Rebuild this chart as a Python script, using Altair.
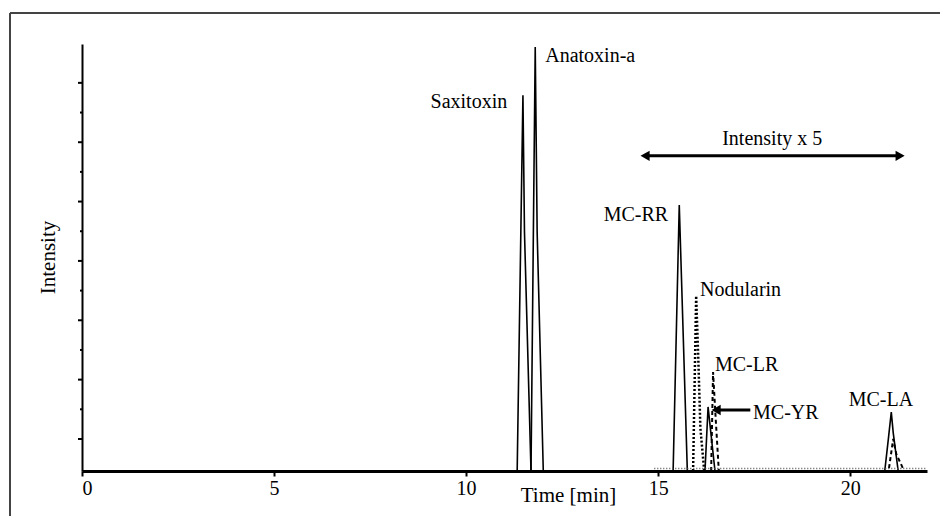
import altair as alt
import pandas as pd

# ---- chromatogram traces (time in min, relative intensity) ----
sax_t = [11.33, 11.48, 11.52, 11.69]
sax_i = [0, 88, 56, 0]
ana_t = [11.69, 11.80, 11.85, 12.01]
ana_i = [0, 99.3, 56, 0]
rr_t = [15.39, 15.55, 15.76]
rr_i = [0, 62.3, 0]
yr_t = [16.22, 16.30, 16.48]
yr_i = [0, 15, 0]
la_t = [20.90, 21.00, 21.07, 21.12, 21.25]
la_i = [0, 8, 13.8, 9, 0]
nod_t = [15.91, 15.99, 16.05, 16.10, 16.20]
nod_i = [0, 41, 25, 10, 0]
lr_t = [16.38, 16.43, 16.50, 16.58, 21.00, 21.12, 21.20, 21.38]
lr_i = [0, 23.2, 12, 0, 0, 7.5, 4, 0.5]
noise_t = [14.9, 22.0]
noise_i = [0.6, 0.6]

# ---- annotations ----
lab_right = ["Saxitoxin", "MC-RR"]
lab_right_t = [11.07, 15.26]
lab_right_i = [86.4, 60.0]
lab_left = ["Anatoxin-a", "Nodularin", "MC-LR", "MC-YR"]
lab_left_t = [12.06, 16.09, 16.48, 17.47]
lab_left_i = [97.2, 42.4, 24.8, 13.6]
lab_center = ["Intensity  x 5", "MC-LA"]
lab_center_t = [17.97, 20.80]
lab_center_i = [77.8, 16.6]

span_t = [14.66, 21.30]
span_i = 73.8
yr_arrow_t = [16.51, 17.40]
yr_arrow_i = 14.3

x_ticks = [0, 5, 10, 15, 20]
y_major = [7.5, 21.4, 35.3, 49.2, 63.1, 77.0, 90.9]
y_minor = [14.45, 28.35, 42.25, 56.15, 70.05, 83.95]

FONT = "Liberation Serif"
xscale = alt.Scale(domain=[0, 22], nice=False, zero=False)
yscale = alt.Scale(domain=[0, 100], nice=False)


def trace(name, ts, is_):
    return pd.DataFrame({"t": ts, "i": is_, "series": name, "k": range(len(ts))})


solid = pd.concat([
    trace("Saxitoxin", sax_t, sax_i),
    trace("Anatoxin-a", ana_t, ana_i),
    trace("MC-RR", rr_t, rr_i),
    trace("MC-YR", yr_t, yr_i),
    trace("MC-LA", la_t, la_i),
])
nod = trace("Nodularin", nod_t, nod_i)
lr = trace("MC-LR", lr_t, lr_i)
noise = trace("noise", noise_t, noise_i)

x_axis = alt.Axis(
    values=x_ticks, title="Time [min]", grid=False, tickSize=5, tickWidth=2,
    tickColor="black", domainColor="black", domainWidth=3, labelFlush=True,
    labelFont=FONT, labelFontSize=20, labelColor="black", labelPadding=2,
    titleFont=FONT, titleFontSize=21, titleFontWeight="normal", titleColor="black",
    titleX=486, titleY=24, titleBaseline="middle", titleAlign="center")
y_axis = alt.Axis(
    labels=False, ticks=False, grid=False, title="Intensity",
    domainColor="black", domainWidth=2,
    titleFont=FONT, titleFontSize=21, titleFontWeight="normal", titleColor="black",
    titleX=-34, titleY=213, titleAngle=270, titleBaseline="middle", titleAlign="center")

X = alt.X("t:Q", scale=xscale, axis=x_axis)
Y = alt.Y("i:Q", scale=yscale, axis=y_axis)

solid_layer = alt.Chart(solid).mark_line(color="black", strokeWidth=1.6).encode(
    x=X, y=Y, detail="series:N", order="k:Q")
nod_layer = alt.Chart(nod).mark_line(color="black", strokeWidth=2.5, strokeDash=[2, 2]).encode(
    x=X, y=Y, order="k:Q")
lr_layer = alt.Chart(lr).mark_line(color="black", strokeWidth=2, strokeDash=[4, 3]).encode(
    x=X, y=Y, order="k:Q")
noise_layer = alt.Chart(noise).mark_line(color="#555", strokeWidth=1.5, strokeDash=[1, 2]).encode(
    x=X, y=Y, order="k:Q")

tick_major = alt.Chart(pd.DataFrame({"i": y_major})).mark_rule(color="black", strokeWidth=2).encode(
    y=Y, x=alt.value(-4), x2=alt.value(1))
tick_minor = alt.Chart(pd.DataFrame({"i": y_minor})).mark_rule(color="black", strokeWidth=2).encode(
    y=Y, x=alt.value(-2), x2=alt.value(1))


def texts(lbls, ts, is_, align):
    df = pd.DataFrame({"label": lbls, "t": ts, "i": is_})
    return alt.Chart(df).mark_text(font=FONT, fontSize=20, align=align, baseline="middle",
                                   color="black").encode(x=X, y=Y, text="label:N")


span_df = pd.DataFrame({"t": [span_t[0]], "t2": [span_t[1]], "i": [span_i]})
span_rule = alt.Chart(span_df).mark_rule(color="black", strokeWidth=3).encode(
    x=X, x2="t2:Q", y=Y)
span_heads = alt.Chart(pd.DataFrame({"t": span_t, "i": [span_i, span_i],
                                     "shape": ["triangle-left", "triangle-right"]})).mark_point(
    filled=True, color="black", size=110, opacity=1).encode(
    x=X, y=Y, shape=alt.Shape("shape:N", scale=None, legend=None))

yr_df = pd.DataFrame({"t": [yr_arrow_t[0]], "t2": [yr_arrow_t[1]], "i": [yr_arrow_i]})
yr_rule = alt.Chart(yr_df).mark_rule(color="black", strokeWidth=3).encode(
    x=X, x2="t2:Q", y=Y)
yr_head = alt.Chart(pd.DataFrame({"t": [yr_arrow_t[0]], "i": [yr_arrow_i]})).mark_point(
    filled=True, color="black", size=110, opacity=1, shape="triangle-left").encode(x=X, y=Y)

frame_df = pd.DataFrame({"a": [0]})
frame_top = alt.Chart(frame_df).mark_rule(color="#444", strokeWidth=2).encode(
    x=alt.value(-72), x2=alt.value(870), y=alt.value(-31))
frame_left = alt.Chart(frame_df).mark_rule(color="#444", strokeWidth=2).encode(
    x=alt.value(-72), y=alt.value(-31), y2=alt.value(490))

chart = alt.layer(
    solid_layer, nod_layer, lr_layer, noise_layer, tick_major, tick_minor,
    texts(lab_right, lab_right_t, lab_right_i, "right"),
    texts(lab_left, lab_left_t, lab_left_i, "left"),
    texts(lab_center, lab_center_t, lab_center_i, "center"),
    span_rule, span_heads, yr_rule, yr_head, frame_top, frame_left,
).properties(
    width=845, height=427,
    autosize=alt.AutoSizeParams(type="none"),
    padding={"left": 74, "top": 36, "right": 13, "bottom": 45},
    background="white",
).configure_view(stroke=None, clip=False)

chart.save("out.html", embed_options={"renderer": "svg", "actions": False})
